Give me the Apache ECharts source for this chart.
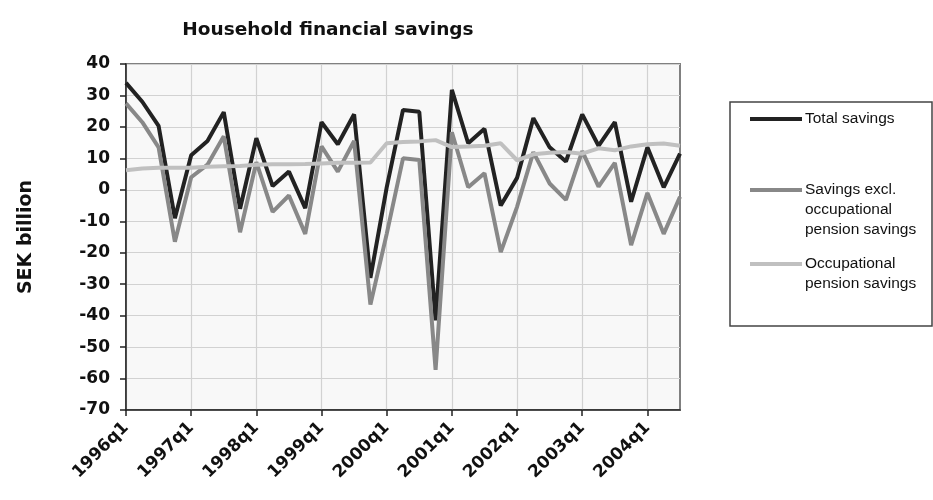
<!DOCTYPE html>
<html>
<head>
<meta charset="utf-8">
<script src="https://cdn.jsdelivr.net/npm/echarts@6/dist/echarts.min.js"></script>
<style>html,body{margin:0;padding:0;background:#fff}#c{width:933px;height:500px}</style>
</head>
<body>
<div id="c"></div>
<script>
const categories = ['1996q1','1996q2','1996q3','1996q4','1997q1','1997q2','1997q3','1997q4','1998q1','1998q2','1998q3','1998q4','1999q1','1999q2','1999q3','1999q4','2000q1','2000q2','2000q3','2000q4','2001q1','2001q2','2001q3','2001q4','2002q1','2002q2','2002q3','2002q4','2003q1','2003q2','2003q3','2003q4','2004q1','2004q2','2004q3'];
const totalSavings = [34, 28, 20.3, -9, 11, 15.5, 24.7, -6, 16.4, 1.2, 5.8, -5.8, 21.5, 14.5, 24, -28, 0.8, 25.4, 24.8, -41.5, 31.8, 14.8, 19.4, -5, 3.8, 22.8, 13.5, 9, 24, 14, 21.5, -3.8, 13.5, 0.8, 11.5];
const savingsExcl = [27.5, 21.5, 13.5, -16.5, 4, 8, 17, -13.5, 8.8, -7, -1.8, -14, 13.8, 5.8, 15.5, -36.5, -14, 10, 9.5, -57.2, 18.3, 0.8, 5.3, -19.8, -5.4, 12, 2, -3.2, 12.3, 1, 8.6, -17.6, -1, -14, -2.2];
const occupational = [6.2, 6.8, 7, 7, 7, 7.3, 7.5, 7.6, 8, 8.1, 8.1, 8.2, 8.4, 8.6, 8.6, 8.7, 14.8, 15.2, 15.4, 15.8, 13.6, 13.8, 14, 14.8, 9.4, 11.3, 11.8, 12, 11.5, 13.2, 12.6, 13.8, 14.5, 14.7, 14];
const seriesNames = ['Total savings', 'Savings excl. occupational pension savings', 'Occupational pension savings'];
const legendLabels = ['Total savings', '\n\nSavings excl.\noccupational\npension savings', '\nOccupational\npension savings'];
const yTicks = {min: -70, max: 40, interval: 10};

const chart = echarts.init(document.getElementById('c'), null, {renderer: 'canvas'});
const boldFont = '"DejaVu Sans", sans-serif';
const legendBase = {
  orient: 'vertical', left: 750, padding: 0, itemWidth: 52, itemHeight: 4, icon: 'rect',
  selectedMode: false, itemGap: 0,
  textStyle: {fontFamily: '"Liberation Sans", Arial, sans-serif', fontSize: 15.5, color: '#111', lineHeight: 20, padding: [0,0,0,-2]},
  formatter: function (n) { return legendLabels[seriesNames.indexOf(n)]; }
};
chart.setOption({
  animation: false,
  backgroundColor: '#ffffff',
  title: {
    text: 'Household financial savings', left: 323, top: 16, textAlign: 'center',
    textStyle: {fontFamily: boldFont, fontWeight: 'bold', fontSize: 18.5, color: '#111'}
  },
  legend: [
    Object.assign({}, legendBase, {top: 109, data: [seriesNames[0]]}),
    Object.assign({}, legendBase, {top: 140, data: [seriesNames[1]]}),
    Object.assign({}, legendBase, {top: 234, data: [seriesNames[2]]})
  ],
  graphic: [{
    type: 'rect', z: -1, shape: {x: 730, y: 102, width: 202, height: 224},
    style: {fill: 'none', stroke: '#444', lineWidth: 1.5}
  }],
  grid: {left: 126, right: 253, top: 64, bottom: 90, show: true, backgroundColor: '#f8f8f8', borderColor: '#808080', borderWidth: 2},
  xAxis: {
    type: 'category', data: categories, boundaryGap: false,
    axisLine: {onZero: false, lineStyle: {color: '#222', width: 1.5}},
    axisTick: {show: true, interval: 3, length: 6, lineStyle: {color: '#222', width: 1.5}},
    splitLine: {show: true, interval: 3, lineStyle: {color: '#d2d2d2', width: 1.2}},
    axisLabel: {interval: 3, rotate: 45, margin: 15, fontFamily: boldFont, fontWeight: 'bold', fontSize: 17, color: '#111'}
  },
  yAxis: {
    type: 'value', min: yTicks.min, max: yTicks.max, interval: yTicks.interval,
    name: 'SEK billion', nameLocation: 'middle', nameRotate: 90, nameGap: 90,
    nameTextStyle: {fontFamily: boldFont, fontWeight: 'bold', fontSize: 19, color: '#111'},
    axisLine: {show: true, lineStyle: {color: '#222', width: 1.5}},
    axisTick: {show: true, length: 6, lineStyle: {color: '#222', width: 1.5}},
    splitLine: {show: true, lineStyle: {color: '#d2d2d2', width: 1.2}},
    axisLabel: {margin: 16, fontFamily: boldFont, fontWeight: 'bold', fontSize: 17, color: '#111'}
  },
  series: [
    {name: seriesNames[0], type: 'line', data: totalSavings, symbol: 'none', color: '#222222', lineStyle: {width: 4, color: '#222222'}},
    {name: seriesNames[1], type: 'line', data: savingsExcl, symbol: 'none', color: '#888888', lineStyle: {width: 4, color: '#888888'}},
    {name: seriesNames[2], type: 'line', data: occupational, symbol: 'none', color: '#c0c0c0', lineStyle: {width: 4, color: '#c0c0c0'}}
  ]
});
</script>
</body>
</html>
